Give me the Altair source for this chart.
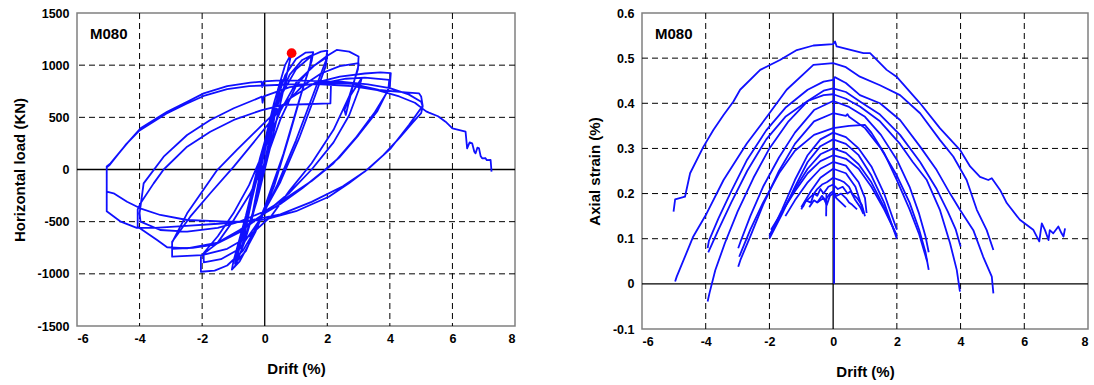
import altair as alt
import pandas as pd

FONT = "Liberation Sans"
BLUE = "#1010ff"

# ---------------- Left panel: horizontal load (kN) vs drift (%) ----------------
# Hysteresis path, in time order, split by amplitude group: (drift %, load kN)
cyc_small = [(0, 0), (0.15, 250), (0.3, 480), (0.2, 320), (-0.05, 0), (-0.25, -280), (-0.45, -520),
             (-0.35, -360), (-0.1, 40), (0.25, 500), (0.55, 860), (0.42, 650), (0.05, 150),
             (-0.35, -380), (-0.75, -780), (-0.6, -560), (-0.2, 20), (0.3, 640), (0.65, 1000),
             (0.85, 1110),
             (0.8, 1040), (0.55, 700), (0.15, 180), (-0.25, -300), (-0.65, -700), (-0.95, -930)]
cyc_15 = [(-0.9, -860), (-0.55, -460), (-0.15, 40), (0.25, 540), (0.65, 900), (1.0, 1060),
          (1.3, 1120), (1.55, 1125),
          (1.5, 1040), (1.2, 760), (0.8, 340), (0.3, -160), (-0.3, -600), (-0.8, -880), (-1.05, -960),
          (-1.0, -880), (-0.6, -440), (-0.15, 110), (0.3, 580), (0.8, 910), (1.2, 1050), (1.5, 1095),
          (1.45, 1000), (1.1, 660), (0.6, 150), (0.0, -360), (-0.6, -780), (-0.95, -900)]
cyc_2 = [(-0.9, -820), (-0.5, -380), (0, 200), (0.5, 700), (1.0, 960), (1.5, 1090), (1.8, 1130),
         (2.0, 1140),
         (1.95, 1040), (1.6, 760), (1.0, 280), (0.4, -150), (-0.2, -520), (-0.7, -780), (-1.2, -920),
         (-1.6, -970), (-2.04, -980),
         (-2.04, -828), (-1.52, -708), (-0.99, -484), (-0.46, -228), (0, 60), (0.5, 480), (1.0, 800),
         (1.5, 980), (1.9, 1060), (2.0, 1090),
         (1.95, 990), (1.6, 700), (1.1, 300), (0.5, -120), (-0.2, -500), (-0.8, -760), (-1.4, -860),
         (-1.95, -890)]
cyc_3 = [(-1.95, -800), (-1.5, -640), (-1.0, -420), (-0.5, -150), (0, 200), (0.5, 560), (1.0, 830),
         (1.6, 1000), (2.0, 1090), (2.3, 1146), (2.7, 1130), (3.0, 1083),
         (2.98, 960), (2.7, 700), (2.2, 380), (1.5, 60), (0.8, -200), (0.2, -450), (-0.5, -640),
         (-1.2, -760), (-2.0, -820), (-2.96, -836),
         (-2.96, -692), (-2.38, -452), (-1.74, -228), (-0.99, 27), (-0.3, 280), (0.5, 580),
         (1.2, 800), (1.8, 920), (2.4, 990), (3.0, 1019),
         (3.0, 1000), (2.8, 780), (2.59, 523), (2.55, 570), (2.7, 690), (3.1, 876), (3.0, 760),
         (2.7, 520), (2.2, 260), (1.5, 0), (0.8, -220), (0, -420), (-0.8, -600), (-1.6, -720),
         (-2.3, -750), (-2.96, -760)]
cyc_4 = [(-2.96, -700), (-2.48, -420), (-1.52, -5), (-0.89, 187), (-0.03, 443), (0.8, 680),
         (1.6, 830), (2.4, 890), (3.2, 920), (3.7, 930), (4.03, 924),
         (4.0, 800), (3.6, 560), (3.0, 330), (2.4, 120), (1.94, 0), (1.2, -180), (0.5, -330),
         (0, -420), (-0.8, -580), (-1.5, -700), (-2.48, -756), (-3.12, -745), (-3.44, -676),
         (-4.06, -548),
         (-4.06, -382), (-3.97, -324), (-3.55, -133), (-3.23, 0), (-2.48, 219), (-1.74, 362),
         (-0.99, 475), (-0.09, 570), (0.56, 618), (2.1, 634), (2.12, 842), (2.6, 870), (3.2, 880),
         (3.98, 860),
         (3.95, 760), (3.5, 540), (2.9, 300), (2.2, 60), (1.5, -110), (0.6, -290), (0, -400),
         (-0.8, -500), (-1.5, -560), (-2.48, -596), (-3.34, -580), (-3.97, -500)]
cyc_5 = [(-4.0, -420), (-3.87, -133), (-3.23, 123), (-2.48, 331), (-1.74, 475), (-0.99, 587),
         (-0.09, 698), (-0.07, 640), (-0.03, 700), (0.8, 790), (1.8, 830), (2.8, 820), (3.65, 762),
         (4.5, 740), (4.93, 730), (5.0, 700),
         (5.05, 610), (4.61, 427), (4.03, 203), (3.33, 11), (2.69, -132), (2.05, -261), (1.0, -400),
         (0, -480), (-0.65, -500), (-1.5, -520), (-2.5, -540), (-3.5, -560), (-4.09, -560),
         (-4.6, -500), (-5.05, -400),
         (-5.05, 30), (-4.93, 59), (-4.4, 251), (-3.97, 395), (-3.12, 554), (-2.48, 650),
         (-1.95, 730), (-1.2, 800), (-0.46, 832), (-0.1, 842), (-0.08, 790), (-0.03, 845),
         (0.5, 855), (1.5, 850), (2.5, 840), (3.3, 815), (4.0, 780), (4.6, 720), (5.0, 650),
         (5.05, 605),
         (5.0, 540), (4.7, 440), (4.3, 300), (3.8, 140), (3.2, -20), (2.5, -160), (1.5, -310),
         (0.5, -430), (-0.67, -500), (-1.2, -500), (-2.48, -484), (-3.34, -436), (-3.98, -372),
         (-4.4, -309), (-4.83, -228), (-5.05, -213)]
cyc_final = [(-5.05, 20), (-4.95, 45), (-4.45, 235), (-4.0, 375), (-3.15, 535), (-2.5, 630),
             (-1.95, 705), (-1.2, 770), (-0.5, 800), (0, 805), (0.8, 815), (1.8, 815), (2.8, 800),
             (3.6, 760), (4.3, 700), (4.8, 640), (5.16, 557), (5.25, 545), (5.54, 510), (5.78, 458),
             (6.0, 395), (6.42, 362), (6.47, 203), (6.55, 260), (6.63, 251), (6.7, 170), (6.74, 155),
             (6.8, 210), (6.85, 203), (6.9, 130), (6.95, 107), (7.05, 110), (7.1, 90), (7.22, 91),
             (7.25, -21)]
peak_point = [(0.86, 1115)]

# ---------------- Right panel: axial strain (%) vs drift (%) ----------------
arch_final = [(-5.01, 0.16), (-4.96, 0.187), (-4.65, 0.193), (-4.49, 0.245), (-4.07, 0.304),
              (-3.76, 0.341), (-3.44, 0.374), (-3.13, 0.404), (-2.92, 0.43), (-2.29, 0.474),
              (-1.67, 0.496), (-1.14, 0.518), (-0.62, 0.528), (0, 0.531), (0.06, 0.537),
              (0.11, 0.526), (0.95, 0.511), (1.16, 0.511), (1.68, 0.474), (1.99, 0.459),
              (2.73, 0.40), (3.35, 0.345), (3.98, 0.297), (4.3, 0.26), (4.61, 0.237), (4.87, 0.23),
              (4.98, 0.234), (5.24, 0.208), (5.45, 0.179), (5.86, 0.142), (6.28, 0.12),
              (6.47, 0.094), (6.55, 0.134), (6.65, 0.119), (6.76, 0.097), (6.8, 0.119),
              (6.91, 0.112), (7.07, 0.127), (7.17, 0.112), (7.23, 0.105), (7.28, 0.123)]
arch_5a = [(-4.96, 0.005), (-4.91, 0.016), (-4.39, 0.105), (-3.97, 0.156), (-3.44, 0.23),
           (-2.71, 0.311), (-2.08, 0.37), (-1.46, 0.43), (-0.62, 0.485), (0, 0.489), (0.4, 0.48),
           (0.84, 0.459), (1.47, 0.44), (2.1, 0.418), (2.73, 0.378), (3.35, 0.319), (3.77, 0.282),
           (4.19, 0.23), (4.51, 0.164), (4.82, 0.119), (5.03, 0.075)]
arch_5b = [(-3.94, 0.079), (-3.9, 0.095), (-3.6, 0.145), (-3.2, 0.205), (-2.7, 0.275), (-2.1, 0.34),
           (-1.5, 0.39), (-0.8, 0.43), (-0.3, 0.448), (0, 0.452), (0.05, 0.458), (0.4, 0.445),
           (0.84, 0.418), (1.47, 0.40), (2.1, 0.363), (2.73, 0.304), (3.25, 0.252), (3.67, 0.2),
           (3.98, 0.164), (4.4, 0.119), (4.71, 0.06), (4.98, 0.016), (5.03, -0.021)]
arch_4a = [(-3.94, -0.039), (-3.88, -0.02), (-3.7, 0.03), (-3.4, 0.09), (-3.0, 0.16), (-2.5, 0.235),
           (-2.0, 0.3), (-1.4, 0.36), (-0.8, 0.405), (-0.3, 0.428), (0, 0.433), (0.4, 0.425),
           (0.84, 0.404), (1.47, 0.375), (2.1, 0.33), (2.73, 0.27), (3.25, 0.21), (3.6, 0.16),
           (3.85, 0.12), (4.0, 0.083)]
arch_4b = [(-3.92, 0.07), (-3.6, 0.12), (-3.2, 0.18), (-2.7, 0.25), (-2.1, 0.32), (-1.5, 0.37),
           (-0.8, 0.405), (-0.3, 0.418), (0, 0.42), (0.4, 0.41), (0.84, 0.393), (1.47, 0.36),
           (2.1, 0.31), (2.5, 0.27), (2.94, 0.23), (3.35, 0.164), (3.67, 0.09), (3.88, 0.031),
           (3.98, -0.017)]
arch_3a = [(-2.98, 0.079), (-2.9, 0.095), (-2.6, 0.15), (-2.2, 0.215), (-1.7, 0.28), (-1.2, 0.335),
           (-0.6, 0.385), (0, 0.405), (0.5, 0.392), (1.0, 0.37), (1.5, 0.33), (2.0, 0.275),
           (2.4, 0.215), (2.7, 0.155), (2.9, 0.105), (3.0, 0.07)]
arch_3b = [(-2.98, 0.038), (-2.9, 0.055), (-2.6, 0.105), (-2.2, 0.175), (-1.7, 0.25), (-1.2, 0.31),
           (-0.6, 0.36), (0, 0.378), (0.4, 0.372), (0.45, 0.376), (0.5, 0.37), (1.0, 0.345),
           (1.5, 0.3), (2.0, 0.24), (2.4, 0.18), (2.7, 0.12), (2.9, 0.07), (3.0, 0.031)]
arch_3c = [(-2.95, 0.06), (-2.6, 0.12), (-2.2, 0.18), (-1.7, 0.245), (-1.2, 0.295), (-0.6, 0.33),
           (0, 0.345), (0.5, 0.35), (1.0, 0.352), (1.2, 0.335), (1.6, 0.29), (2.0, 0.23),
           (2.4, 0.165), (2.7, 0.11), (2.95, 0.05)]
arch_2a = [(-2.0, 0.105), (-1.9, 0.12), (-1.6, 0.165), (-1.2, 0.23), (-0.8, 0.285), (-0.4, 0.32),
           (0, 0.335), (0.4, 0.325), (0.8, 0.3), (1.2, 0.26), (1.6, 0.2), (2.0, 0.12)]
arch_2b = [(-2.0, 0.10), (-1.6, 0.155), (-1.2, 0.215), (-0.8, 0.27), (-0.4, 0.305), (0, 0.32),
           (0.4, 0.31), (0.8, 0.285), (1.2, 0.24), (1.6, 0.18), (2.0, 0.10)]
arch_2c = [(-1.98, 0.11), (-1.6, 0.16), (-1.2, 0.21), (-0.8, 0.255), (-0.4, 0.287), (0, 0.30),
           (0.4, 0.29), (0.8, 0.265), (1.2, 0.225), (1.6, 0.17), (2.0, 0.105)]
arch_2d = [(-1.95, 0.12), (-1.6, 0.16), (-1.2, 0.205), (-0.8, 0.245), (-0.4, 0.272), (0, 0.285),
           (0.4, 0.277), (0.8, 0.255), (1.2, 0.215), (1.6, 0.165), (1.98, 0.11)]
arch_1a = [(-1.5, 0.15), (-1.2, 0.185), (-0.8, 0.225), (-0.4, 0.255), (0, 0.27), (0.4, 0.262),
           (0.8, 0.225), (1.0, 0.19), (1.05, 0.157)]
arch_1b = [(-1.0, 0.17), (-0.7, 0.205), (-0.4, 0.235), (0, 0.255), (0.4, 0.245), (0.7, 0.215),
           (0.95, 0.16)]
arch_1c = [(-1.0, 0.165), (-0.9, 0.18), (-0.75, 0.19), (-0.6, 0.2), (-0.5, 0.21), (-0.35, 0.22),
           (-0.2, 0.225), (0, 0.235), (0.2, 0.23), (0.35, 0.225), (0.5, 0.215), (0.6, 0.2),
           (0.75, 0.19), (0.9, 0.175), (1.0, 0.15)]
arch_1d = [(-0.95, 0.17), (-0.85, 0.185), (-0.7, 0.18), (-0.6, 0.2), (-0.5, 0.195), (-0.4, 0.21),
           (-0.3, 0.2), (-0.15, 0.215), (0, 0.22), (0.15, 0.21), (0.3, 0.215), (0.45, 0.2),
           (0.55, 0.205), (0.7, 0.185), (0.85, 0.17), (0.95, 0.155)]
arch_s1 = [(-0.75, 0.17), (-0.6, 0.185), (-0.5, 0.18), (-0.35, 0.195), (-0.25, 0.185), (-0.1, 0.2),
           (0, 0.205), (0.1, 0.195), (0.25, 0.2), (0.4, 0.19), (0.5, 0.18), (0.6, 0.175),
           (0.75, 0.165)]
arch_s2 = [(-0.5, 0.18), (-0.3, 0.19), (-0.2, 0.175), (-0.1, 0.195), (0, 0.2), (0.1, 0.19),
           (0.25, 0.18), (0.4, 0.17)]
spike_a = [(-0.22, 0.15), (-0.21, 0.2)]
spike_zero = [(0.03, 0.0), (0.03, 0.455)]

x_grid = [-4, -2, 2, 4, 6]
load_grid = [-1000, -500, 500, 1000]
strain_grid = [0.1, 0.2, 0.3, 0.4, 0.5]
x_ticks = [-6, -4, -2, 0, 2, 4, 6, 8]
load_ticks = [-1500, -1000, -500, 0, 500, 1000, 1500]
strain_ticks = [-0.1, 0, 0.1, 0.2, 0.3, 0.4, 0.5, 0.6]

# ---------------- build tables ----------------
rows = []
k = 0
for seg in [cyc_small, cyc_15, cyc_2, cyc_3, cyc_4, cyc_5, cyc_final]:
    for d, f in seg:
        rows.append({"drift": d, "load": f, "i": k})
        k += 1
left_df = pd.DataFrame(rows)

rrows = []
arches = {"final": arch_final, "5a": arch_5a, "5b": arch_5b, "4a": arch_4a, "4b": arch_4b,
          "3a": arch_3a, "3b": arch_3b, "3c": arch_3c, "2a": arch_2a, "2b": arch_2b,
          "2c": arch_2c, "2d": arch_2d, "1a": arch_1a, "1b": arch_1b, "1c": arch_1c,
          "1d": arch_1d, "s1": arch_s1, "s2": arch_s2, "sp": spike_a, "sz": spike_zero}
for name, pts in arches.items():
    for j, (d, s) in enumerate(pts):
        rrows.append({"drift": d, "strain": s, "arch": name, "i": j})
right_df = pd.DataFrame(rrows)

peak_df = pd.DataFrame([{"drift": d, "load": f} for d, f in peak_point])

lab = "'' + datum.value"
LBL = dict(labelFont=FONT, labelFontSize=12.5, labelFontWeight="bold", labelColor="black",
           titleFont=FONT, titleFontSize=15, titleFontWeight="bold", titleColor="black")


def xaxis():
    return alt.Axis(values=x_ticks, grid=False, domain=False, ticks=False, labelExpr=lab,
                    labelPadding=6, titlePadding=17, title="Drift (%)", **LBL)


def panel(ycol, ydom, yticks, ygrid, ytitle):
    xs = alt.Scale(domain=[-6, 8], nice=False, zero=False)
    ys = alt.Scale(domain=ydom, nice=False, zero=False)
    vgrid = alt.Chart(pd.DataFrame({"drift": x_grid})).mark_rule(
        color="black", strokeWidth=1, strokeDash=[6, 4]).encode(
        x=alt.X("drift:Q", scale=xs, axis=xaxis()))
    hgrid = alt.Chart(pd.DataFrame({ycol: ygrid})).mark_rule(
        color="black", strokeWidth=1, strokeDash=[6, 4]).encode(
        y=alt.Y(f"{ycol}:Q", scale=ys,
                axis=alt.Axis(values=yticks, grid=False, domain=False, ticks=False,
                              labelExpr=lab, labelPadding=8, titlePadding=10, title=ytitle,
                              **LBL)))
    zx = alt.Chart(pd.DataFrame({"drift": [0]})).mark_rule(color="black", strokeWidth=1.3).encode(
        x=alt.X("drift:Q", scale=xs))
    zy = alt.Chart(pd.DataFrame({ycol: [0]})).mark_rule(color="black", strokeWidth=1.3).encode(
        y=alt.Y(f"{ycol}:Q", scale=ys))
    lbl = alt.Chart(pd.DataFrame({"t": ["M080"]})).mark_text(
        font=FONT, fontSize=15, fontWeight="bold", align="left", baseline="middle",
        color="black").encode(x=alt.value(13), y=alt.value(21), text="t:N")
    return vgrid, hgrid, zx, zy, lbl, xs, ys


vg, hg, zx, zy, lbl, xs, ys = panel("load", [-1500, 1500], load_ticks, load_grid,
                                    "Horizontal load (KN)")
left_line = alt.Chart(left_df).mark_line(color=BLUE, strokeWidth=1.8, strokeJoin="round").encode(
    x=alt.X("drift:Q", scale=xs), y=alt.Y("load:Q", scale=ys), order="i:Q")
left_pt = alt.Chart(peak_df).mark_point(filled=True, color="#ff0000", size=95, opacity=1).encode(
    x=alt.X("drift:Q", scale=xs), y=alt.Y("load:Q", scale=ys))
left = alt.layer(vg, hg, zx, zy, left_line, left_pt, lbl).properties(width=438, height=313)

vg2, hg2, zx2, zy2, lbl2, xs2, ys2 = panel("strain", [-0.1, 0.6], strain_ticks,
                                           strain_grid, "Axial strain (%)")
right_line = alt.Chart(right_df).mark_line(color=BLUE, strokeWidth=1.8, strokeJoin="round").encode(
    x=alt.X("drift:Q", scale=xs2), y=alt.Y("strain:Q", scale=ys2), detail="arch:N", order="i:Q")
right = alt.layer(vg2, hg2, zx2, zy2, right_line, lbl2).properties(width=446, height=316)

chart = alt.hconcat(left, right, spacing=69).properties(
    padding={"left": 11, "top": 6, "right": 0, "bottom": 0}, background="white"
).configure_view(stroke="#808080", strokeWidth=1.5)

chart.save("out.html", embed_options={"renderer": "svg", "actions": False})
